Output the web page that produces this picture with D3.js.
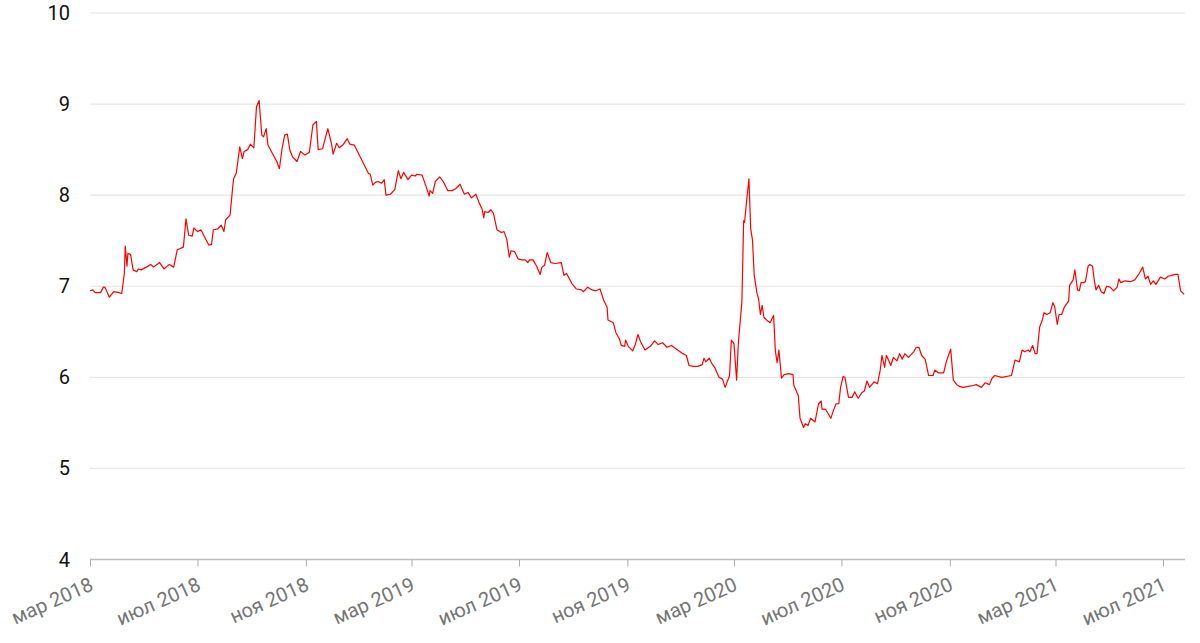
<!DOCTYPE html>
<html><head><meta charset="utf-8">
<script src="https://cdn.jsdelivr.net/npm/d3@7"></script>
<style>
html,body{margin:0;padding:0;background:#fff;}
svg{display:block;}
</style></head>
<body>
<svg id="chart" width="1200" height="643"></svg>
<script>
const dates = [
"2018-03-01","2018-03-04","2018-03-07","2018-03-13","2018-03-16","2018-03-18","2018-03-23","2018-03-28","2018-04-03","2018-04-06",
"2018-04-09","2018-04-10","2018-04-12","2018-04-13","2018-04-16","2018-04-19","2018-04-23","2018-04-25","2018-04-28","2018-05-04",
"2018-05-09","2018-05-12","2018-05-19","2018-05-24","2018-05-30","2018-06-04","2018-06-08","2018-06-15","2018-06-18","2018-06-21",
"2018-06-25","2018-06-27","2018-07-01","2018-07-05","2018-07-09","2018-07-14","2018-07-17","2018-07-19","2018-07-24","2018-07-28",
"2018-07-31","2018-08-02","2018-08-07","2018-08-10","2018-08-11","2018-08-14","2018-08-18","2018-08-21","2018-08-23","2018-08-27",
"2018-08-30","2018-09-02","2018-09-03","2018-09-06","2018-09-09","2018-09-12","2018-09-14","2018-09-17","2018-09-19","2018-09-25",
"2018-09-29","2018-10-02","2018-10-05","2018-10-08","2018-10-11","2018-10-14","2018-10-17","2018-10-22","2018-10-26","2018-10-31",
"2018-11-05","2018-11-09","2018-11-13","2018-11-15","2018-11-20","2018-11-23","2018-11-26","2018-11-30","2018-12-02","2018-12-06",
"2018-12-09","2018-12-13","2018-12-18","2018-12-21","2018-12-26","2019-01-11","2019-01-13","2019-01-16","2019-01-19","2019-01-22",
"2019-01-26","2019-01-29","2019-01-31","2019-02-05","2019-02-10","2019-02-14","2019-02-17","2019-02-20","2019-02-25","2019-03-01",
"2019-03-05","2019-03-07","2019-03-13","2019-03-17","2019-03-21","2019-03-22","2019-03-25","2019-03-28","2019-04-02","2019-04-06",
"2019-04-11","2019-04-16","2019-04-20","2019-04-25","2019-04-30","2019-05-04","2019-05-08","2019-05-13","2019-05-17","2019-05-20",
"2019-05-22","2019-05-23","2019-05-27","2019-05-30","2019-06-02","2019-06-06","2019-06-11","2019-06-14","2019-06-17","2019-06-20",
"2019-06-22","2019-06-26","2019-06-30","2019-07-04","2019-07-08","2019-07-11","2019-07-13","2019-07-17","2019-07-21","2019-07-25",
"2019-07-27","2019-07-30","2019-08-02","2019-08-06","2019-08-11","2019-08-18","2019-08-21","2019-08-24","2019-08-30","2019-09-04",
"2019-09-10","2019-09-12","2019-09-17","2019-09-22","2019-09-26","2019-10-01","2019-10-05","2019-10-07","2019-10-09","2019-10-10",
"2019-10-16","2019-10-19","2019-10-23","2019-10-25","2019-10-29","2019-10-30","2019-11-02","2019-11-07","2019-11-10","2019-11-13",
"2019-11-16","2019-11-21","2019-11-27","2019-12-02","2019-12-06","2019-12-11","2019-12-16","2019-12-21","2019-12-28","2020-01-03",
"2020-01-07","2020-01-10","2020-01-15","2020-01-20","2020-01-25","2020-01-27","2020-01-29","2020-02-02","2020-02-05","2020-02-08",
"2020-02-13","2020-02-17","2020-02-20","2020-02-25","2020-02-27","2020-03-01","2020-03-04","2020-03-06","2020-03-10","2020-03-12",
"2020-03-13","2020-03-15","2020-03-18","2020-03-20","2020-03-22","2020-03-24","2020-03-27","2020-03-29","2020-03-31","2020-04-02",
"2020-04-04","2020-04-08","2020-04-11","2020-04-15","2020-04-17","2020-04-19","2020-04-21","2020-04-24","2020-04-27","2020-05-02",
"2020-05-07","2020-05-08","2020-05-13","2020-05-15","2020-05-19","2020-05-21","2020-05-24","2020-05-27","2020-06-01","2020-06-05",
"2020-06-08","2020-06-09","2020-06-13","2020-06-16","2020-06-19","2020-06-22","2020-06-25","2020-06-28","2020-06-30","2020-07-03",
"2020-07-05","2020-07-09","2020-07-13","2020-07-16","2020-07-20","2020-07-24","2020-07-27","2020-07-30","2020-08-02","2020-08-07",
"2020-08-11","2020-08-14","2020-08-16","2020-08-19","2020-08-21","2020-08-23","2020-08-26","2020-08-29","2020-09-02","2020-09-05",
"2020-09-08","2020-09-11","2020-09-15","2020-09-21","2020-09-24","2020-09-27","2020-09-30","2020-10-04","2020-10-08","2020-10-13",
"2020-10-15","2020-10-19","2020-10-25","2020-10-28","2020-11-02","2020-11-05","2020-11-09","2020-11-12","2020-11-16","2020-11-22",
"2020-11-28","2020-12-01","2020-12-07","2020-12-11","2020-12-16","2020-12-19","2020-12-22","2020-12-30","2021-01-10","2021-01-14",
"2021-01-19","2021-01-22","2021-01-25","2021-01-29","2021-01-31","2021-02-03","2021-02-06","2021-02-08","2021-02-11","2021-02-14",
"2021-02-16","2021-02-19","2021-02-23","2021-02-26","2021-02-28","2021-03-03","2021-03-05","2021-03-08","2021-03-11","2021-03-16",
"2021-03-17","2021-03-21","2021-03-23","2021-03-26","2021-03-28","2021-03-30","2021-04-02","2021-04-04","2021-04-07","2021-04-09",
"2021-04-12","2021-04-14","2021-04-16","2021-04-19","2021-04-22","2021-04-25","2021-04-28","2021-05-02","2021-05-06","2021-05-10",
"2021-05-12","2021-05-14","2021-05-19","2021-05-25","2021-05-30","2021-06-04","2021-06-08","2021-06-11","2021-06-14","2021-06-17",
"2021-06-20","2021-06-23","2021-06-28","2021-07-03","2021-07-07","2021-07-11","2021-07-15","2021-07-18","2021-07-21","2021-07-25"
];
const values = [
6.95,6.96,6.93,6.93,6.99,6.99,6.88,6.94,6.93,6.92,
7.14,7.44,7.22,7.36,7.35,7.18,7.16,7.19,7.18,7.21,
7.24,7.21,7.26,7.19,7.24,7.21,7.40,7.43,7.74,7.56,
7.55,7.64,7.60,7.62,7.54,7.45,7.46,7.62,7.63,7.67,
7.60,7.73,7.78,8.09,8.18,8.24,8.53,8.40,8.48,8.50,
8.56,8.53,8.52,8.97,9.04,8.66,8.64,8.73,8.55,8.44,
8.37,8.29,8.51,8.66,8.67,8.49,8.42,8.37,8.48,8.44,
8.47,8.77,8.81,8.50,8.51,8.62,8.73,8.57,8.45,8.57,
8.52,8.55,8.62,8.56,8.55,8.24,8.23,8.11,8.14,8.15,
8.13,8.17,8.00,8.01,8.06,8.27,8.18,8.25,8.17,8.22,
8.21,8.23,8.22,8.11,7.99,8.05,8.02,8.15,8.20,8.15,
8.05,8.05,8.07,8.12,8.01,8.03,7.97,8.01,7.91,7.85,
7.75,7.82,7.81,7.84,7.80,7.62,7.59,7.60,7.52,7.32,
7.39,7.38,7.30,7.29,7.29,7.26,7.29,7.29,7.22,7.13,
7.21,7.23,7.37,7.26,7.25,7.26,7.12,7.14,7.03,6.97,
6.96,6.94,6.99,6.96,6.95,6.97,6.85,6.81,6.77,6.63,
6.60,6.49,6.42,6.35,6.34,6.41,6.34,6.29,6.36,6.47,
6.39,6.30,6.34,6.40,6.36,6.38,6.33,6.35,6.30,6.26,
6.24,6.13,6.12,6.12,6.14,6.21,6.17,6.21,6.15,6.11,
6.00,5.98,5.89,6.02,6.41,6.37,5.97,6.38,6.83,7.72,
7.70,7.90,8.18,7.63,7.51,7.12,6.93,6.86,6.69,6.79,
6.66,6.62,6.60,6.68,6.29,6.16,6.30,5.99,6.03,6.04,
6.03,5.91,5.80,5.55,5.45,5.49,5.47,5.55,5.51,5.71,
5.74,5.65,5.65,5.60,5.55,5.64,5.71,5.71,5.89,6.01,
6.00,5.78,5.78,5.84,5.77,5.83,5.85,5.96,5.89,5.95,
5.93,6.08,6.24,6.11,6.24,6.20,6.13,6.22,6.18,6.26,
6.20,6.26,6.22,6.28,6.33,6.33,6.24,6.20,6.02,6.02,
6.08,6.05,6.05,6.17,6.31,5.97,5.92,5.90,5.89,5.90,
5.91,5.92,5.89,5.94,5.92,5.99,6.02,6.00,6.02,6.19,
6.17,6.30,6.28,6.30,6.28,6.35,6.26,6.26,6.55,6.63,
6.71,6.69,6.71,6.82,6.78,6.58,6.69,6.69,6.77,6.84,
7.01,7.07,7.18,6.96,6.95,7.04,7.04,7.05,7.22,7.24,
7.22,7.07,6.96,7.01,6.94,6.92,7.00,6.99,6.95,6.99,
7.08,7.04,7.06,7.05,7.07,7.14,7.21,7.08,7.11,7.02,
7.06,7.02,7.10,7.08,7.11,7.12,7.13,7.13,6.95,6.91
];
const yTicks = [4,5,6,7,8,9,10];
const xTickDates = ["2018-03-01","2018-07-01","2018-11-01","2019-03-01","2019-07-01","2019-11-01","2020-03-01","2020-07-01","2020-11-01","2021-03-01","2021-07-01"];
const xTickLabels = ["мар 2018","июл 2018","ноя 2018","мар 2019","июл 2019","ноя 2019","мар 2020","июл 2020","ноя 2020","мар 2021","июл 2021"];
const xDomain = ["2018-03-01","2021-07-26"];

(function(){
const parse = d3.utcParse("%Y-%m-%d");
const data = dates.map((d,i)=>({date:parse(d), value:values[i]}));

const svg = d3.select("#chart");
const mLeft = 90, mRight = 1185, mTop = 13, mBottom = 559.5;

const x = d3.scaleUtc().domain(xDomain.map(parse)).range([mLeft, mRight]);
const y = d3.scaleLinear().domain([4,10]).range([mBottom, mTop]);

svg.append("g").selectAll("line").data(yTicks.filter(t=>t>4)).join("line")
  .attr("x1", mLeft).attr("x2", mRight)
  .attr("y1", d=>y(d)).attr("y2", d=>y(d))
  .attr("stroke", "#e6e6e6").attr("stroke-width", 1.2);

svg.append("g").selectAll("text").data(yTicks).join("text")
  .attr("x", 70).attr("y", d=>y(d)).attr("dy","0.35em")
  .attr("text-anchor","end")
  .attr("font-family","Roboto, sans-serif").attr("font-size", 20)
  .attr("fill","#111").text(d=>d);

const xAxis = d3.axisBottom(x)
  .tickValues(xTickDates.map(parse))
  .tickSize(7)
  .tickFormat((d,i)=>xTickLabels[i]);
const gx = svg.append("g").attr("transform",`translate(0,${mBottom})`).call(xAxis);
gx.select(".domain").attr("stroke","#bdbdbd").attr("stroke-width",1.5).attr("d",`M${mLeft},0H${mRight}`);
gx.selectAll(".tick line").attr("stroke","#aaaaaa").attr("stroke-width",1);
gx.selectAll(".tick text")
  .attr("font-family","Roboto, sans-serif").attr("font-size",20)
  .attr("fill","#757575")
  .attr("text-anchor","end")
  .attr("y",0).attr("dy",0)
  .attr("transform","translate(4,30) rotate(-24)");

const line = d3.line().x(d=>x(d.date)).y(d=>y(d.value));
svg.append("path").datum(data)
  .attr("d", line).attr("fill","none")
  .attr("stroke","#ff0000").attr("stroke-width",1.2)
  .attr("stroke-linejoin","round");
})();
</script>
</body></html>
